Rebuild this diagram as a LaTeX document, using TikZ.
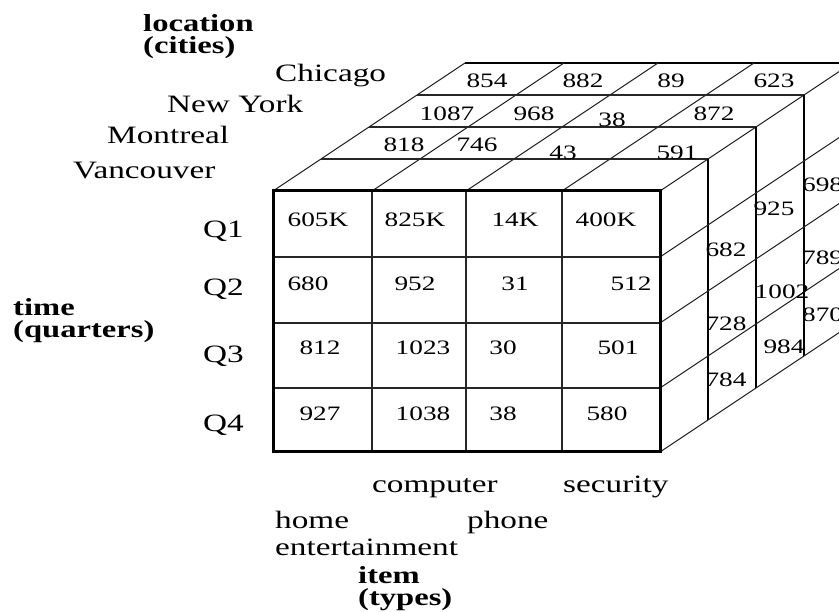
\documentclass[tikz,border=0pt]{standalone}
\usepackage{fontspec}
\setmainfont[FakeStretch=1.33]{Liberation Serif}
\begin{document}
\begin{tikzpicture}[x=1pt,y=-1pt,
  grid/.style={line width=1.1pt, black!85},
  rim/.style={line width=1.6pt, black},
  frontedge/.style={line width=3pt, black},
  num/.style={font=\fontsize{20.5}{24}\selectfont, inner sep=0pt, anchor=base},
  numw/.style={font=\fontsize{20.5}{24}\selectfont, inner sep=0pt, anchor=base west},
  lbl/.style={font=\fontsize{25}{30}\selectfont, inner sep=0pt, anchor=base west},
  axis/.style={font=\fontsize{24.5}{22}\selectfont\bfseries, inner sep=0pt, anchor=north west, align=left}]
\useasboundingbox (0,0) rectangle (839,612);
\begin{scope}
\clip (0,0) rectangle (839,612);
% top face
\foreach \k in {1,2,3}
  \draw[grid] (273+48*\k,191-32*\k) -- (660+48*\k,191-32*\k);
\draw[rim] (465,63) -- (852,63);
\foreach \x in {273,372,466,562,660}
  \draw[grid] (\x,191) -- ++(192,-128);
% right face
\foreach \k in {1,2,3,4}
  \draw[rim] (660+48*\k,191-32*\k) -- (660+48*\k,452-32*\k);
\foreach \y in {257,323,388,452}
  \draw[grid] (660,\y) -- ++(192,-128);
% front face
\foreach \x in {372,466,562}
  \draw[grid] (\x,191) -- (\x,452);
\foreach \y in {257,323,388}
  \draw[grid] (273,\y) -- (660,\y);
\draw[frontedge] (273,191) rectangle (660,452);
% front numbers
\foreach \t/\x/\y/\n in {605K/318/227/f11, 825K/415/227/f12, 14K/515/227/f13, 400K/606/227/f14,
  680/308/291/f21, 952/415/291/f22, 31/515/291/f23, 512/631/291/f24,
  812/320/355/f31, 1023/423/355/f32, 30/503/355/f33, 501/618/355/f34,
  927/320/421/f41, 1038/423/421/f42, 38/503/421/f43, 580/607/421/f44}
  \node[num] (\n) at (\x,\y) {\t};
% top numbers
\foreach \t/\x/\y/\n in {854/487/88/t31, 882/583/88/t32, 89/671/88/t33, 623/774/88/t34,
  1087/447/121/t21, 968/534/121/t22, 38/612/127/t23, 872/714/121/t24,
  818/404/152/t11, 746/477/152/t12, 43/563/160/t13, 591/677/160/t14}
  \node[num] (\n) at (\x,\y) {\t};
% right numbers
\foreach \t/\x/\y/\n in {682/726/257/r11, 728/726/331/r12, 784/726/387/r13,
  925/774/216/r21, 1002/782/299/r22, 984/784/354/r23}
  \node[num] (\n) at (\x,\y) {\t};
\foreach \t/\y/\n in {698/192/r31, 789/265/r32, 870/322/r33}
  \node[numw] (\n) at (802,\y) {\t};
\end{scope}
% axis labels
\node[axis] (loc) at (143,14.5) {location\\(cities)};
\node[lbl] (chi) at (275,82) {Chicago};
\node[lbl] (ny) at (167,113) {New York};
\node[lbl] (mon) at (107,144) {Montreal};
\node[lbl] (van) at (73,179) {Vancouver};
\node[axis] (time) at (13,298.5) {time\\(quarters)};
\node[lbl] (q1) at (203,238) {Q1};
\node[lbl] (q2) at (203,296) {Q2};
\node[lbl] (q3) at (203,363) {Q3};
\node[lbl] (q4) at (203,432) {Q4};
\node[lbl] (comp) at (372,493) {computer};
\node[lbl] (sec) at (563,493) {security};
\node[lbl] (home) at (275,529) {home};
\node[lbl] (phone) at (467,529) {phone};
\node[lbl] (ent) at (275,555) {entertainment};
\node[axis] (item) at (358,566.5) {item\\(types)};
\end{tikzpicture}
\end{document}
